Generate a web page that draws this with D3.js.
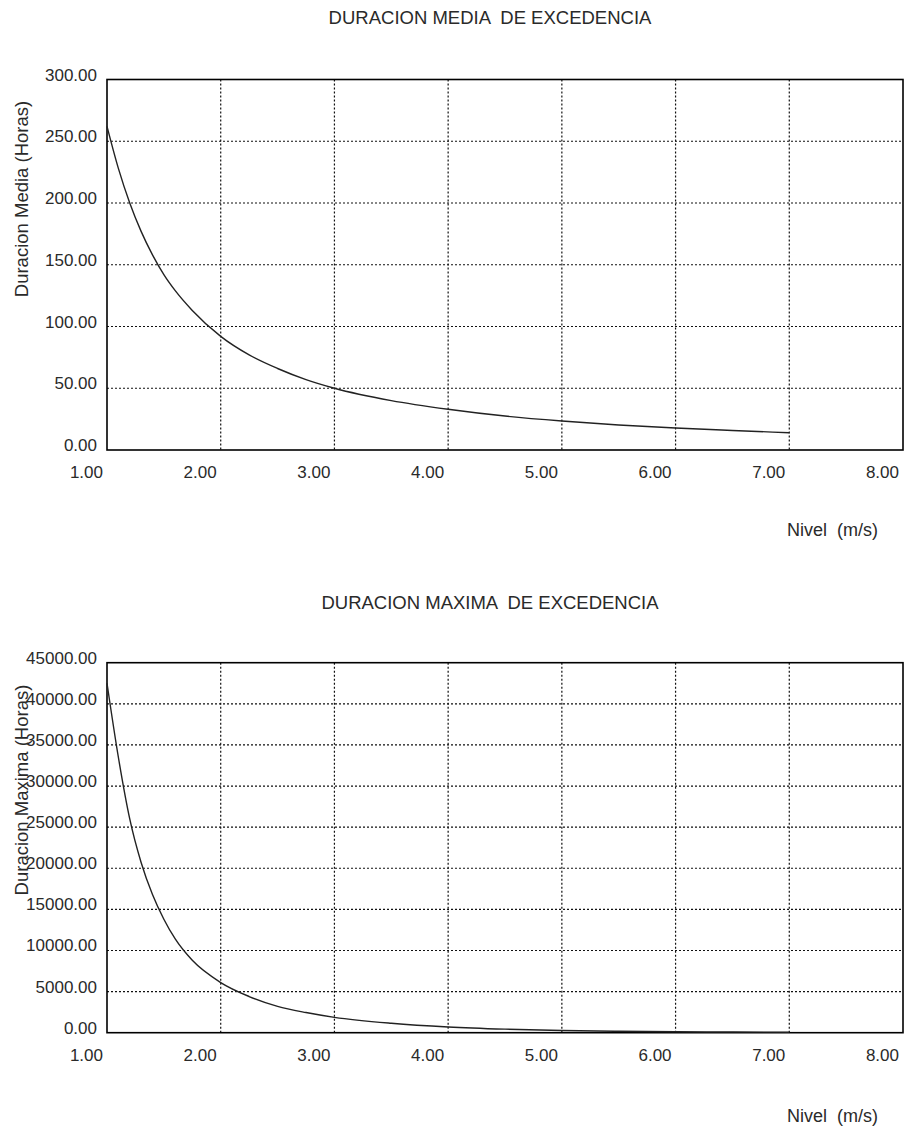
<!DOCTYPE html>
<html>
<head>
<meta charset="utf-8">
<script src="https://cdn.jsdelivr.net/npm/d3@7"></script>
<style>
  html, body { margin: 0; padding: 0; background: #fff; }
  svg text { font-family: "Liberation Sans", Arial, sans-serif; fill: #2a2a2a; }
</style>
</head>
<body>
<svg id="chart" width="904" height="1130"></svg>
<script>
// ---- Data ----
const nivel = [1.0, 1.1, 1.2, 1.3, 1.4, 1.5, 1.6, 1.75, 2.0, 2.25, 2.5, 2.75, 3.0, 3.5, 4.0, 4.5, 5.0, 5.5, 6.0, 6.5, 7.0];
const duracionMedia = [262, 228, 200, 177, 158, 142, 129, 113, 92, 77, 66, 57, 50, 40, 33, 27.5, 23.5, 20.3, 17.8, 15.8, 14];
const duracionMaxima = [42500, 33500, 26000, 20700, 16800, 13800, 11400, 8800, 6100, 4400, 3200, 2450, 1870, 1150, 700, 430, 260, 170, 110, 80, 60];
const xTicks = [1, 2, 3, 4, 5, 6, 7, 8];
const mediaTicks = [0, 50, 100, 150, 200, 250, 300];
const maximaTicks = [0, 5000, 10000, 15000, 20000, 25000, 30000, 35000, 40000, 45000];
const titles = ["DURACION MEDIA  DE EXCEDENCIA", "DURACION MAXIMA  DE EXCEDENCIA"];
const yTitles = ["Duracion Media (Horas)", "Duracion Maxima (Horas)"];
const xTitle = "Nivel  (m/s)";

const svg = d3.select("#chart");
const fmt = d3.format(".2f");

function drawChart(cfg) {
  const g = svg.append("g");
  const x = d3.scaleLinear().domain([1, 8]).range([107, 903]);
  const y = d3.scaleLinear().domain([0, d3.max(cfg.ticks)]).range([cfg.bottom, cfg.top]);

  // title
  g.append("text").attr("x", 490).attr("y", cfg.titleY)
    .attr("text-anchor", "middle").attr("font-size", 18.5).style("white-space", "pre")
    .attr("xml:space", "preserve").text(cfg.title);

  // grid horizontal
  g.append("g").selectAll("line").data(cfg.ticks.slice(1, -1)).join("line")
    .attr("x1", x(1)).attr("x2", x(8))
    .attr("y1", d => y(d)).attr("y2", d => y(d))
    .attr("stroke", "#111").attr("stroke-width", 1.2).attr("stroke-dasharray", "2,2");
  // grid vertical
  g.append("g").selectAll("line").data(xTicks.slice(1, -1)).join("line")
    .attr("x1", d => x(d)).attr("x2", d => x(d))
    .attr("y1", cfg.top).attr("y2", cfg.bottom)
    .attr("stroke", "#111").attr("stroke-width", 1.2).attr("stroke-dasharray", "2,2");

  // frame
  g.append("rect").attr("x", x(1)).attr("y", cfg.top)
    .attr("width", x(8) - x(1)).attr("height", cfg.bottom - cfg.top)
    .attr("fill", "none").attr("stroke", "#000").attr("stroke-width", 1.6);

  // y tick labels
  g.append("g").selectAll("text").data(cfg.ticks).join("text")
    .attr("x", 97).attr("y", d => y(d) + 1)
    .attr("text-anchor", "end").attr("font-size", 17)
    .text(d => fmt(d));

  // x tick labels
  g.append("g").selectAll("text").data(xTicks).join("text")
    .attr("x", d => x(d) - 4).attr("y", cfg.bottom + 28)
    .attr("text-anchor", "end").attr("font-size", 17)
    .text(d => fmt(d));

  // y axis title
  g.append("text")
    .attr("transform", `translate(28,${cfg.yTitleY}) rotate(-90)`)
    .attr("text-anchor", "middle").attr("font-size", 18.5)
    .text(cfg.yTitle);

  // x axis title
  g.append("text").attr("x", 878).attr("y", cfg.xTitleY)
    .attr("text-anchor", "end").attr("font-size", 18).attr("xml:space", "preserve")
    .text(xTitle);

  // curve
  const line = d3.line().x(d => x(d[0])).y(d => y(d[1])).curve(d3.curveMonotoneX);
  g.append("path").datum(d3.zip(nivel, cfg.values))
    .attr("d", line).attr("fill", "none")
    .attr("stroke", "#222").attr("stroke-width", 1.4);
}

drawChart({ title: titles[0], titleY: 24, top: 79.5, bottom: 450, ticks: mediaTicks,
  values: duracionMedia, yTitle: yTitles[0], yTitleY: 199, xTitleY: 536 });
drawChart({ title: titles[1], titleY: 609, top: 662.7, bottom: 1032.7, ticks: maximaTicks,
  values: duracionMaxima, yTitle: yTitles[1], yTitleY: 790, xTitleY: 1122 });
</script>
</body>
</html>
